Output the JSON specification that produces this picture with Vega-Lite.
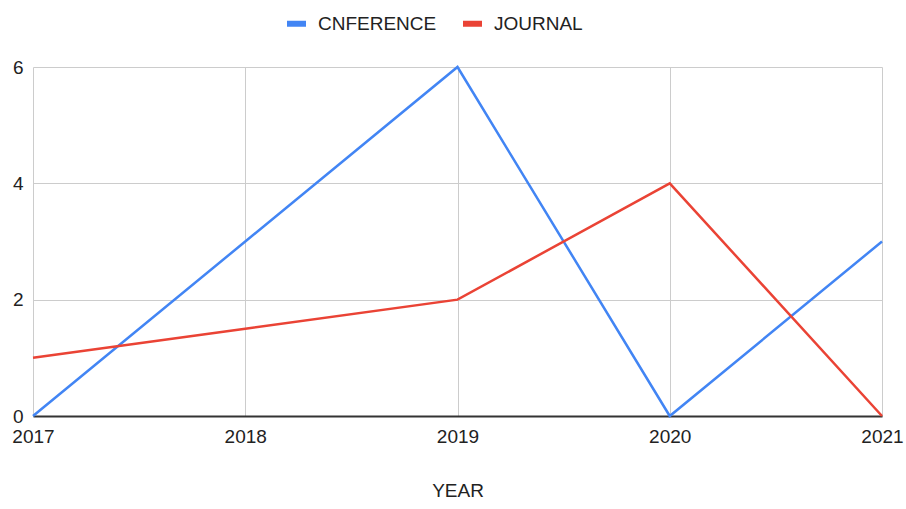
{
  "$schema": "https://vega.github.io/schema/vega-lite/v6.json",
  "width": 849,
  "height": 349,
  "autosize": "none",
  "padding": {"left": 33, "top": 67, "right": 24, "bottom": 93},
  "background": "white",
  "config": {"view": {"stroke": null}, "font": "Liberation Sans"},
  "data": {
    "values": [
      {"year": 2017, "series": "CNFERENCE", "value": 0},
      {"year": 2018, "series": "CNFERENCE", "value": 3},
      {"year": 2019, "series": "CNFERENCE", "value": 6},
      {"year": 2020, "series": "CNFERENCE", "value": 0},
      {"year": 2021, "series": "CNFERENCE", "value": 3},
      {"year": 2017, "series": "JOURNAL", "value": 1},
      {"year": 2018, "series": "JOURNAL", "value": 1.5},
      {"year": 2019, "series": "JOURNAL", "value": 2},
      {"year": 2020, "series": "JOURNAL", "value": 4},
      {"year": 2021, "series": "JOURNAL", "value": 0}
    ]
  },
  "mark": {"type": "line", "strokeWidth": 2.5},
  "encoding": {
    "x": {
      "field": "year",
      "type": "quantitative",
      "scale": {"domain": [2017, 2021], "nice": false, "zero": false},
      "axis": {
        "title": "YEAR",
        "format": "d",
        "values": [2017, 2018, 2019, 2020, 2021],
        "ticks": false,
        "domainColor": "#333333",
        "domainWidth": 2,
        "gridColor": "#cccccc",
        "labelFontSize": 19,
        "labelColor": "#222222",
        "labelPadding": 11,
        "labelFlush": false,
        "titleFontSize": 19,
        "titleFontWeight": "normal",
        "titleColor": "#222222",
        "titlePadding": 35
      }
    },
    "y": {
      "field": "value",
      "type": "quantitative",
      "scale": {"domain": [0, 6], "nice": false},
      "axis": {
        "title": null,
        "values": [0, 2, 4, 6],
        "domain": false,
        "ticks": false,
        "labelPadding": 10,
        "gridColor": "#cccccc",
        "labelFontSize": 19,
        "labelColor": "#222222"
      }
    },
    "color": {
      "field": "series",
      "type": "nominal",
      "scale": {"domain": ["CNFERENCE", "JOURNAL"], "range": ["#4285F4", "#EA4335"]},
      "legend": {
        "title": null,
        "orient": "none",
        "legendX": 251,
        "legendY": -56,
        "direction": "horizontal",
        "symbolType": "stroke",
        "symbolStrokeWidth": 6,
        "symbolSize": 361,
        "labelOffset": 9,
        "labelFontSize": 19,
        "labelColor": "#222222",
        "columnPadding": 14
      }
    }
  }
}
